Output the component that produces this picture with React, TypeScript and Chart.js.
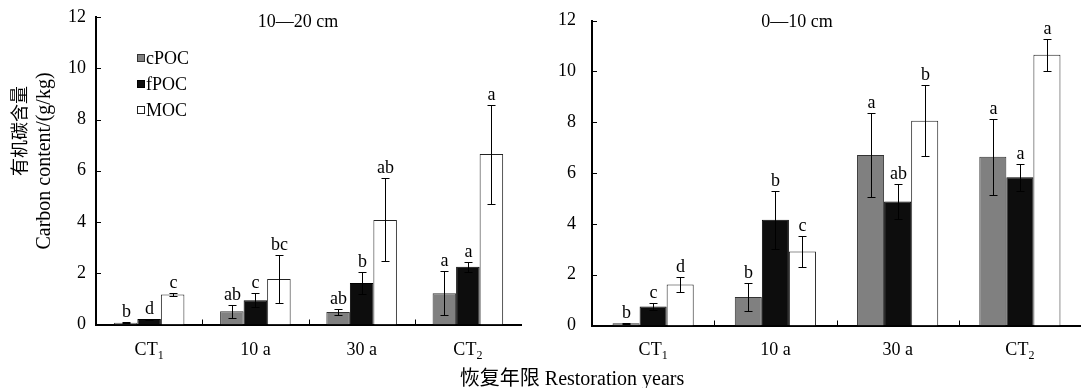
import React, { useEffect, useRef } from 'react';
import { Chart, registerables } from 'chart.js';

Chart.register(...registerables);

// ---------- data ----------
const categories = ['CT_1', '10 a', '30 a', 'CT_2'];
const seriesNames = ['cPOC', 'fPOC', 'MOC'];
const seriesColors = ['#808080', '#0d0d0d', '#ffffff'];
const seriesBorders = ['#333333', '#000000', '#222222'];
const yTicks = [0, 2, 4, 6, 8, 10, 12];

// 10—20 cm
const deepTitle = '10—20 cm';
const deepCPOC = [0.07, 0.52, 0.49, 1.22];
const deepCPOCErr = [0.01, 0.25, 0.12, 0.85];
const deepFPOC = [0.21, 0.95, 1.62, 2.25];
const deepFPOCErr = [0.02, 0.28, 0.43, 0.19];
const deepMOC = [1.17, 1.78, 4.08, 6.65];
const deepMOCErr = [0.06, 0.95, 1.62, 1.93];
const deepCPOCLetters = ['b', 'ab', 'ab', 'a'];
const deepFPOCLetters = ['d', 'c', 'b', 'a'];
const deepMOCLetters = ['c', 'bc', 'ab', 'a'];

// 0—10 cm
const topTitle = '0—10 cm';
const topCPOC = [0.09, 1.12, 6.71, 6.64];
const topCPOCErr = [0.02, 0.55, 1.65, 1.5];
const topFPOC = [0.75, 4.16, 4.88, 5.83];
const topFPOCErr = [0.13, 1.14, 0.7, 0.54];
const topMOC = [1.61, 2.91, 8.06, 10.65];
const topMOCErr = [0.28, 0.62, 1.39, 0.63];
const topCPOCLetters = ['b', 'b', 'a', 'a'];
const topFPOCLetters = ['c', 'b', 'ab', 'a'];
const topMOCLetters = ['d', 'c', 'b', 'a'];

const yTitleCN = '有机碳含量';
const yTitleEN = 'Carbon content/(g/kg)';
const xTitle = '恢复年限 Restoration years';

const SERIF = "'Liberation Serif', 'Times New Roman', 'Noto Sans CJK SC', serif";
const FONT = `18px ${SERIF}`;

type PanelCfg = {
  title: string;
  titleX: number;
  values: number[][];
  errors: number[][];
  letters: string[][];
  legend: boolean;
  yTitle: boolean;
  yWidth: number;
  labelPad: number;
  padding: { left: number; right: number; top: number; bottom: number };
  xHeight: number;
};

function splitLabel(l: string) {
  const parts = l.split('_');
  return { main: parts[0], sub: parts[1] || '' };
}

function decorPlugin(cfg: PanelCfg) {
  return {
    id: 'panelDecor',
    afterDatasetsDraw(chart: any) {
      const ctx: CanvasRenderingContext2D = chart.ctx;
      const xs = chart.scales.x;
      const ys = chart.scales.y;
      const area = chart.chartArea;
      ctx.save();

      // error bars and letters
      chart.data.datasets.forEach((_ds: any, di: number) => {
        const meta = chart.getDatasetMeta(di);
        meta.data.forEach((el: any, i: number) => {
          const v = cfg.values[di][i];
          const e = cfg.errors[di][i];
          const yt = Math.round(ys.getPixelForValue(v + e)) + 0.5;
          const yb = Math.round(ys.getPixelForValue(Math.max(0, v - e))) + 0.5;
          const cx = Math.round(el.x) + 0.5;
          ctx.strokeStyle = '#000';
          ctx.lineWidth = 1;
          ctx.beginPath();
          ctx.moveTo(cx, yt);
          ctx.lineTo(cx, yb);
          ctx.moveTo(cx - 4, yt);
          ctx.lineTo(cx + 4, yt);
          ctx.moveTo(cx - 4, yb);
          ctx.lineTo(cx + 4, yb);
          ctx.stroke();
          ctx.fillStyle = '#000';
          ctx.font = FONT;
          ctx.textAlign = 'center';
          ctx.textBaseline = 'alphabetic';
          ctx.fillText(cfg.letters[di][i], cx, yt - 6);
        });
      });

      // inside ticks on y
      ctx.strokeStyle = '#000';
      ctx.lineWidth = 1;
      ctx.beginPath();
      yTicks.forEach((t) => {
        const py = Math.round(ys.getPixelForValue(t)) + 0.5;
        ctx.moveTo(area.left, py);
        ctx.lineTo(area.left + 5, py);
      });
      // inside ticks on x at category boundaries
      for (let i = 0; i < categories.length - 1; i++) {
        const bx = Math.round((xs.getPixelForValue(i) + xs.getPixelForValue(i + 1)) / 2) + 0.5;
        ctx.moveTo(bx, area.bottom);
        ctx.lineTo(bx, area.bottom - 5);
      }
      ctx.stroke();

      // x category labels with subscripts
      ctx.fillStyle = '#000';
      ctx.textBaseline = 'alphabetic';
      categories.forEach((c, i) => {
        const { main, sub } = splitLabel(c);
        const cx = xs.getPixelForValue(i);
        ctx.font = FONT;
        const wMain = ctx.measureText(main).width;
        ctx.font = `12px ${SERIF}`;
        const wSub = sub ? ctx.measureText(sub).width : 0;
        const start = cx - (wMain + wSub) / 2;
        ctx.textAlign = 'left';
        ctx.font = FONT;
        ctx.fillText(main, start, 355);
        if (sub) {
          ctx.font = `12px ${SERIF}`;
          ctx.fillText(sub, start + wMain, 359);
        }
      });

      // panel title
      ctx.font = FONT;
      ctx.textAlign = 'center';
      ctx.textBaseline = 'middle';
      ctx.fillText(cfg.title, cfg.titleX, 22);

      // legend
      if (cfg.legend) {
        const ly = [58, 84, 110];
        seriesNames.forEach((n, k) => {
          ctx.fillStyle = seriesColors[k];
          ctx.fillRect(137, ly[k] - 4, 8, 8);
          ctx.strokeStyle = seriesBorders[k];
          ctx.lineWidth = 1;
          ctx.strokeRect(137.5, ly[k] - 3.5, 7, 7);
          ctx.fillStyle = '#000';
          ctx.font = FONT;
          ctx.textAlign = 'left';
          ctx.textBaseline = 'middle';
          ctx.fillText(n, 146, ly[k] + 1);
        });
      }

      // y title
      if (cfg.yTitle) {
        ctx.fillStyle = '#000';
        ctx.textAlign = 'center';
        ctx.textBaseline = 'middle';
        ctx.save();
        ctx.translate(19, 131);
        ctx.rotate(-Math.PI / 2);
        ctx.font = `18px 'Noto Sans CJK SC', ${SERIF}`;
        ctx.fillText(yTitleCN, 0, 0);
        ctx.restore();
        ctx.save();
        ctx.translate(45, 161);
        ctx.rotate(-Math.PI / 2);
        ctx.font = `20px ${SERIF}`;
        ctx.fillText(yTitleEN, 0, 0);
        ctx.restore();
      }
      ctx.restore();
    },
  };
}

function buildConfig(cfg: PanelCfg): any {
  return {
    type: 'bar',
    data: {
      labels: categories.map((c) => c.replace('_1', '₁').replace('_2', '₂')),
      datasets: seriesNames.map((n, k) => ({
        label: n,
        data: cfg.values[k],
        backgroundColor: seriesColors[k],
        borderColor: seriesBorders[k],
        borderWidth: 1,
        categoryPercentage: 0.664,
        barPercentage: 1,
      })),
    },
    options: {
      responsive: false,
      animation: false,
      layout: { padding: cfg.padding },
      plugins: { legend: { display: false }, tooltip: { enabled: false }, title: { display: false } },
      scales: {
        x: {
          type: 'category',
          offset: true,
          grid: { display: false, drawTicks: false },
          border: { display: true, color: '#000', width: 2 },
          ticks: { display: false },
          afterFit: (s: any) => {
            s.height = cfg.xHeight;
            s.paddingLeft = 0;
            s.paddingRight = 0;
          },
        },
        y: {
          min: 0,
          max: 12,
          grid: { display: false, drawTicks: false },
          border: { display: true, color: '#000', width: 2 },
          ticks: {
            stepSize: 2,
            color: '#000',
            padding: cfg.labelPad,
            font: { family: SERIF, size: 18 },
          },
          afterFit: (s: any) => {
            s.width = cfg.yWidth;
            s.paddingTop = 0;
            s.paddingBottom = 0;
          },
        },
      },
    },
    plugins: [decorPlugin(cfg)],
  };
}

const leftCfg: PanelCfg = {
  title: deepTitle,
  titleX: 298,
  values: [deepCPOC, deepFPOC, deepMOC],
  errors: [deepCPOCErr, deepFPOCErr, deepMOCErr],
  letters: [deepCPOCLetters, deepFPOCLetters, deepMOCLetters],
  legend: true,
  yTitle: true,
  yWidth: 96,
  labelPad: 10,
  padding: { left: 0, right: 19, top: 17, bottom: 0 },
  xHeight: 63.5,
};

const rightCfg: PanelCfg = {
  title: topTitle,
  titleX: 257,
  values: [topCPOC, topFPOC, topMOC],
  errors: [topCPOCErr, topFPOCErr, topMOCErr],
  letters: [topCPOCLetters, topFPOCLetters, topMOCLetters],
  legend: false,
  yTitle: false,
  yWidth: 52,
  labelPad: 16,
  padding: { left: 0, right: 0, top: 20.5, bottom: 0 },
  xHeight: 62.5,
};

function Panel({ cfg, left, width }: { cfg: PanelCfg; left: number; width: number }) {
  const ref = useRef<HTMLCanvasElement | null>(null);
  useEffect(() => {
    if (!ref.current) return;
    const chart = new Chart(ref.current, buildConfig(cfg));
    return () => chart.destroy();
  }, [cfg]);
  return (
    <canvas
      ref={ref}
      width={width}
      height={388}
      style={{ position: 'absolute', left, top: 0, width, height: 388 }}
    />
  );
}

export default function App() {
  return (
    <div
      style={{
        position: 'fixed',
        left: 0,
        top: 0,
        width: 1081,
        height: 388,
        background: '#fff',
        overflow: 'hidden',
      }}
    >
      <Panel cfg={leftCfg} left={0} width={540} />
      <Panel cfg={rightCfg} left={540} width={541} />
      <div
        style={{
          position: 'absolute',
          left: 372,
          width: 400,
          top: 366,
          textAlign: 'center',
          fontFamily: SERIF,
          fontSize: 20,
          lineHeight: '24px',
          color: '#000',
          whiteSpace: 'nowrap',
        }}
      >
        {xTitle}
      </div>
    </div>
  );
}
